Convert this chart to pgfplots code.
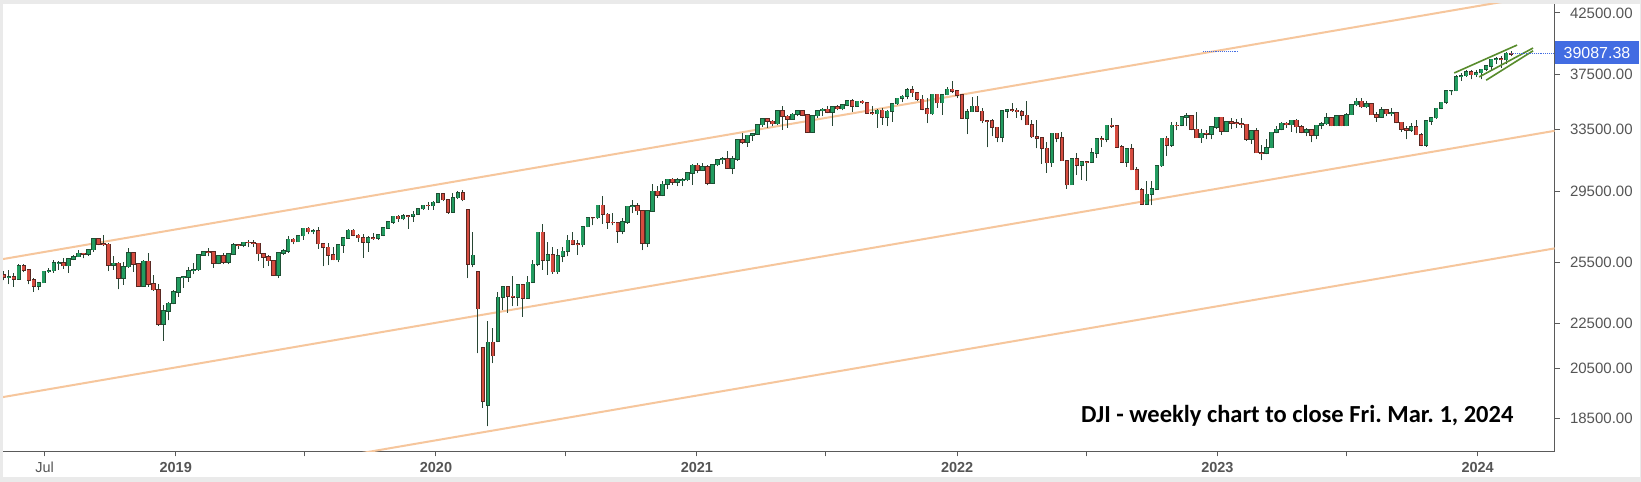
\documentclass[border=0pt]{standalone}
\usepackage{fontspec}
\setmainfont{Liberation Sans}
\newfontfamily\carlito{Carlito}
\usepackage{pgfplots}
\usepackage{pgfplotstable}
\pgfplotsset{compat=1.18}

\definecolor{gfill}{RGB}{34,156,96}
\definecolor{gline}{RGB}{30,80,52}
\definecolor{rfill}{RGB}{214,76,64}
\definecolor{rline}{RGB}{90,40,34}
\definecolor{wick}{RGB}{40,70,52}
\definecolor{orangeline}{RGB}{246,198,156}
\definecolor{chan}{RGB}{88,140,44}
\definecolor{priceblue}{RGB}{66,108,226}
\definecolor{labelgray}{RGB}{85,85,85}
\definecolor{axisgray}{RGB}{90,90,90}
\definecolor{framegray}{RGB}{234,234,234}

% weekly DJI candles, i = weeks since 14 May 2018
\pgfplotstableread{
i o h l c
0 24831 25031 24570 24715
1 24715 25086 24377 24753
2 24753 24953 24253 24635
3 24635 25400 24600 25317
4 25317 25402 24981 25090
5 25090 25100 24370 24580
6 24580 24700 23997 24271
7 24271 24500 24084 24456
8 24456 25060 24450 25019
9 25019 25216 24940 25058
10 25058 25600 24950 25451
11 25451 25550 25100 25463
12 25463 25700 25160 25313
13 25313 25720 24965 25669
14 25669 25900 25600 25790
15 25790 26167 25790 25965
16 25965 26000 25700 25917
17 25917 26200 25850 26155
18 26155 26770 26050 26744
19 26744 26770 26400 26458
20 26458 26951 26350 26447
21 26447 26500 25030 25340
22 25340 25800 25100 25444
23 25444 25500 24122 24688
24 24688 25500 24340 25271
25 25271 26277 25200 25989
26 25989 26000 25000 25413
27 25413 25450 24268 24286
28 24286 25600 24240 25538
29 25538 25980 24242 24389
30 24389 24840 24050 24101
31 24101 24400 22396 22445
32 22445 23380 21713 23062
33 23062 23500 22638 23433
34 23433 24080 23400 23996
35 23996 24750 23750 24706
36 24706 24800 24200 24737
37 24737 25250 24500 25064
38 25064 25440 24880 25106
39 25106 25900 25050 25883
40 25883 26100 25850 26031
41 26031 26240 25800 26026
42 26026 26050 25200 25450
43 25450 25900 25400 25849
44 25849 26000 25400 25502
45 25502 25960 25400 25929
46 25929 26500 25900 26425
47 26425 26480 26200 26412
48 26412 26600 26280 26559
49 26559 26700 26300 26543
50 26543 26700 26300 26505
51 26505 26505 25550 25942
52 25942 26000 25200 25764
53 25764 25900 25300 25586
54 25586 25600 24790 24815
55 24815 26000 24680 25984
56 25984 26200 25900 26090
57 26090 26900 26000 26719
58 26719 26780 26450 26600
59 26600 26970 26600 26922
60 26922 27350 26700 27332
61 27332 27400 27000 27154
62 27154 27300 27000 27192
63 27192 27398 26200 26485
64 26485 26500 25300 26287
65 26287 26500 25340 25886
66 25886 26300 25600 25629
67 25629 26450 25500 26403
68 26403 26850 26000 26797
69 26797 27300 26800 27220
70 27220 27300 26900 26935
71 26935 27000 26600 26820
72 26820 26998 25743 26574
73 26574 26900 26050 26817
74 26817 27050 26700 26770
75 26770 27000 26700 26958
76 26958 27360 26900 27347
77 27347 27700 27300 27681
78 27681 28030 27600 28005
79 28005 28090 27700 27876
80 27876 28175 27800 28051
81 28051 28100 27300 28015
82 28015 28290 27700 28135
83 28135 28500 28100 28455
84 28455 28700 28400 28645
85 28645 28872 28400 28634
86 28634 28900 28400 28823
87 28823 29374 28800 29348
88 29348 29373 28900 28990
89 28990 29000 28170 28256
90 28256 29408 28250 29102
91 29102 29500 29000 29398
92 29398 29568 28900 28992
93 28403 28403 24681 25409
94 25409 27102 25226 25865
95 24992 24992 21154 23186
96 21400 21400 18917 19174
97 19028 22595 18214 21637
98 21637 22300 20735 21053
99 21693 24000 21650 23719
100 23719 24300 23100 24242
101 24242 24300 23000 23775
102 23775 24765 23300 23724
103 23724 24400 23300 24331
104 24331 24400 22790 23685
105 23685 24800 23680 24465
106 24465 25600 24460 25383
107 25383 27150 25300 27111
108 27111 27580 25100 25605
109 25605 26600 24850 25871
110 25871 26300 24900 25016
111 25016 26200 24900 25827
112 25827 26300 25500 26075
113 26075 26950 25800 26672
114 26672 27100 26400 26470
115 26470 26700 25900 26428
116 26428 27450 26300 27433
117 27433 28000 27400 27931
118 27931 28000 27500 27930
119 27930 28700 27850 28654
120 28654 29199 27600 28133
121 28133 28200 27300 27666
122 27666 28200 27500 27657
123 27657 27700 26538 27174
124 27174 27900 27000 27683
125 27683 28600 27600 28587
126 28587 28960 28200 28606
127 28606 28800 28100 28336
128 28336 28400 26144 26502
129 26502 28400 26300 28323
130 28323 29933 28300 29480
131 29480 29800 29100 29263
132 29263 30116 29200 29910
133 29910 30250 29600 30218
134 30218 30320 29900 30046
135 30046 30300 29800 30179
136 30179 30300 29800 30200
137 30200 30640 30100 30606
138 30606 31200 29880 31098
139 31098 31270 30600 30814
140 30814 31280 30800 30997
141 30997 31100 29850 29983
142 29983 31200 29950 31148
143 31148 31460 31050 31458
144 31458 31650 31200 31494
145 31494 32010 30900 30932
146 30932 31700 30550 31496
147 31496 32800 31400 32779
148 32779 33227 32500 32628
149 32628 33100 32300 33073
150 33073 33200 32700 33153
151 33153 33830 33100 33801
152 33801 34250 33650 34200
153 34200 34256 33600 34043
154 34043 34150 33680 33875
155 33875 34800 33800 34778
156 34778 35091 33470 34382
157 34382 34500 33600 34208
158 34208 34650 34200 34529
159 34529 34850 34400 34756
160 34756 34850 34400 34480
161 34480 34500 33250 33290
162 33290 34500 33270 34433
163 34433 34800 34300 34786
164 34786 35000 34400 34870
165 34870 35090 34600 34687
166 34687 35100 33740 35061
167 35061 35170 34800 34935
168 34935 35250 34800 35208
169 35208 35580 35100 35515
170 35515 35630 34700 35120
171 35120 35500 35100 35455
172 35455 35550 35300 35369
173 35369 35380 34600 34607
174 34607 35100 34500 34584
175 34584 34900 33600 34798
176 34798 35000 33800 34326
177 34326 34800 33700 34746
178 34746 35300 34000 35295
179 35295 35700 35200 35677
180 35677 35900 35400 35820
181 35820 36440 35600 36328
182 36328 36565 35800 36100
183 36100 36150 35500 35602
184 35602 35900 34800 34899
185 34899 35700 33900 34580
186 34580 36000 34500 35971
187 35971 36000 35000 35365
188 35365 36000 34500 35951
189 35951 36500 35900 36338
190 36338 36953 36100 36232
191 36232 36300 35700 35912
192 35912 35950 34200 34265
193 34265 34900 33150 34725
194 34725 35800 34700 35089
195 35089 35825 34700 34738
196 34738 34990 33900 34079
197 34079 34100 32273 34059
198 34059 34200 33000 33615
199 33615 33600 32600 32945
200 32945 34800 32600 34755
201 34755 34900 34300 34861
202 34861 35372 34700 34818
203 34818 35000 34300 34721
204 34721 34800 34100 34451
205 34451 35500 33800 33811
206 33811 34100 32900 32977
207 32977 34100 32200 32899
208 32899 32900 31200 32197
209 32197 32600 30635 31262
210 31262 33250 31000 33213
211 33213 33260 32600 32900
212 32900 33300 31390 31393
213 31393 31400 29653 29888
214 29888 31500 29880 31501
215 31501 31900 30500 31097
216 31097 31400 30200 31338
217 31338 31400 30140 31289
218 31289 32200 31280 31899
219 31899 32900 31600 32845
220 32845 33000 32300 32803
221 32803 33800 32600 33761
222 33761 34281 33600 33706
223 33706 33800 32280 32283
224 32283 32400 31300 31318
225 31318 32200 31000 32152
226 32152 32500 30800 30822
227 30822 31000 29590 29590
228 29590 29700 28715 28726
229 28726 30100 28700 29297
230 29297 30100 28660 29635
231 29635 31100 29600 31083
232 31083 32900 31000 32862
233 32862 33000 31700 32403
234 32403 33980 32300 33748
235 33748 33990 33400 33746
236 33746 34400 33700 34347
237 34347 34600 33700 34430
238 34430 34430 33400 33477
239 33477 34712 32900 32920
240 32920 33500 32573 33204
241 33204 33400 32800 33147
242 33147 33700 32800 33631
243 33631 34350 33500 34303
244 34303 34350 33100 33375
245 33375 34000 33300 33978
246 33978 34300 33500 33926
247 33926 34200 33600 33869
248 33869 34300 33600 33827
249 33827 33827 32700 32817
250 32817 33400 32500 33391
251 33391 33600 31900 31910
252 31910 32400 31430 31862
253 31862 32800 31800 32238
254 32238 33300 32200 33274
255 33274 33700 33200 33485
256 33485 34000 33400 33886
257 33886 34000 33600 33809
258 33809 34100 33300 34098
259 34098 34200 33200 33674
260 33674 33800 33200 33301
261 33301 33600 33000 33427
262 33427 33500 32600 33093
263 33093 33800 32800 33762
264 33762 34000 33500 33877
265 33877 34600 33800 34299
266 34299 34300 33700 33727
267 33727 34450 33700 34408
268 34408 34450 33700 33735
269 33735 34600 33700 34509
270 34509 35300 34500 35228
271 35228 35680 35100 35459
272 35459 35680 35000 35066
273 35066 35500 35000 35281
274 35281 35300 34500 34500
275 34500 34700 34000 34347
276 34347 35070 34300 34838
277 34838 34900 34400 34577
278 34577 34980 34400 34618
279 34618 34700 33900 33964
280 33964 34000 33300 33508
281 33508 33700 32800 33407
282 33407 33900 33300 33670
283 33670 34100 33100 33127
284 33127 33200 32327 32418
285 32418 34100 32300 34061
286 34061 34300 33800 34283
287 34283 35000 34200 34947
288 34947 35400 34900 35390
289 35390 36250 35300 36246
290 36246 36300 35900 36248
291 36248 37400 36200 37306
292 37306 37600 37000 37385
293 37385 37800 37300 37690
294 37690 37800 37100 37466
295 37466 37800 37300 37593
296 37593 37900 37100 37863
297 37863 38200 37700 38109
298 38109 38700 37800 38654
299 38654 38800 38300 38672
300 38672 38930 38000 38628
301 38628 39200 38300 39131
302 39131 39300 38900 39087
}\dji

\pgfplotsset{
  candle/.style={only marks, mark=*, mark size=0pt,
    mark options={draw=none, fill=none}, forget plot,
    error bars/.cd, y dir=plus, y explicit, error mark=none},
}

\begin{document}
\frenchspacing
\begin{tikzpicture}
\useasboundingbox (0,0) rectangle (1641bp,482bp);
\fill[framegray] (0,0) rectangle (1641bp,482bp);
\fill[white] (3bp,5bp) rectangle (1640bp,478bp);
\begin{axis}[
  at={(3bp,30.5bp)}, anchor=south west,
  scale only axis, width=1551.5bp, height=447.5bp,
  ymode=log,
  xmin=-0.16, xmax=310.7,
  ymin=17303, ymax=43291,
  axis x line=bottom, axis y line=right,
  axis line style={draw=axisgray, line width=1.3bp, -},
  tick align=outside, major tick length=5bp,
  tick style={draw=axisgray, line width=1bp},
  minor ytick={},
  xtick={8.16,34.44,60.3,86.59,112.59,138.87,164.73,191.01,216.87,243.16,269.01,295.3},
  xticklabels={Jul,\textbf{2019},,\textbf{2020},,\textbf{2021},,\textbf{2022},,\textbf{2023},,\textbf{2024}},
  ytick={18500,20500,22500,25500,29500,33500,37500,42500},
  yticklabels={18500.00,20500.00,22500.00,25500.00,29500.00,33500.00,37500.00,42500.00},
  xticklabel style={font=\fontsize{14.5bp}{16bp}\selectfont, text=labelgray, yshift=-2.5bp},
  yticklabel style={font=\fontsize{15bp}{17bp}\selectfont, text=labelgray, xshift=7bp},
]
% channel lines
\addplot[no marks, draw=orangeline, line width=2bp] coordinates {(-1,25625) (320,45008)};
\addplot[no marks, draw=orangeline, line width=2bp] coordinates {(-1,19315) (320,33925)};
\addplot[no marks, draw=orangeline, line width=2bp] coordinates {(-1,15179) (320,26661)};
% wicks
\addplot[candle, error bar style={draw=wick, line width=1bp, solid}]
  table[x=i, y=l, y error expr={\thisrow{h}-\thisrow{l}}] {\dji};
% rising bodies
\addplot[candle, error bar style={draw=gline, line width=4.4bp, solid}]
  table[x=i, y expr={(\thisrow{c}>=\thisrow{o}) ? \thisrow{o}*0.99857 : nan},
    y error expr={\thisrow{c}*1.00144-\thisrow{o}*0.99857}] {\dji};
\addplot[candle, error bar style={draw=gfill, line width=2.8bp, solid}]
  table[x=i, y expr={(\thisrow{c}>=\thisrow{o}) ? \thisrow{o} : nan},
    y error expr={\thisrow{c}-\thisrow{o}}] {\dji};
% falling bodies
\addplot[candle, error bar style={draw=rline, line width=4.4bp, solid}]
  table[x=i, y expr={(\thisrow{c}<\thisrow{o}) ? \thisrow{c}*0.99857 : nan},
    y error expr={\thisrow{o}*1.00144-\thisrow{c}*0.99857}] {\dji};
\addplot[candle, error bar style={draw=rfill, line width=2.8bp, solid}]
  table[x=i, y expr={(\thisrow{c}<\thisrow{o}) ? \thisrow{c} : nan},
    y error expr={\thisrow{o}-\thisrow{c}}] {\dji};
% short-term channel
\addplot[no marks, draw=chan, line width=1.6bp] coordinates {(290.6,37583) (303.2,39801)};
\addplot[no marks, draw=chan, line width=1.6bp] coordinates {(295.6,37277) (306.4,39560)};
\addplot[no marks, draw=chan, line width=1.6bp] coordinates {(297.0,37030) (306.4,39330)};
% price lines
\addplot[no marks, draw=priceblue, densely dotted, line width=0.9bp] coordinates {(302,39087.38) (312,39087.38)};
\addplot[no marks, draw=priceblue, densely dotted, line width=0.9bp] coordinates {(240.3,39316) (247.5,39316)};
\end{axis}
\fill[priceblue] (1555bp,418bp) rectangle (1639bp,441bp);
\node[text=white, font=\fontsize{16bp}{18bp}\selectfont] at (1597bp,429.5bp) {39087.38};
\node[anchor=base east, font=\carlito\bfseries\fontsize{24.5bp}{27bp}\selectfont] at (1517bp,59bp) {DJI - weekly chart to close Fri. Mar. 1, 2024};
\end{tikzpicture}
\end{document}
